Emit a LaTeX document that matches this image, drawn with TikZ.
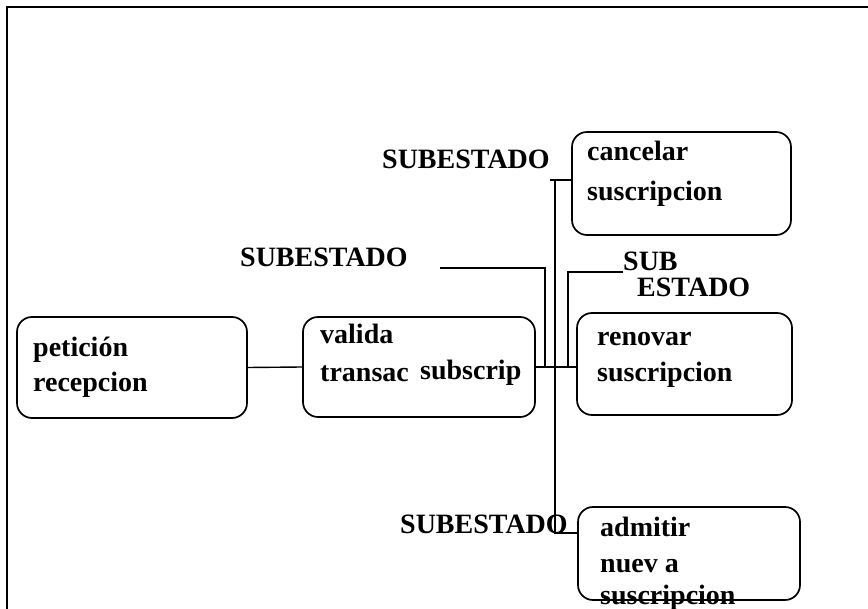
\documentclass[tikz,border=0pt]{standalone}
\usepackage{fontspec}
\setmainfont{Liberation Serif}
\begin{document}
\begin{tikzpicture}[x=1pt,y=-1pt,
  box/.style={draw,line width=1.7pt,rounded corners=15pt,inner sep=0pt},
  txt/.style={anchor=west,inner sep=0pt,yshift=-6pt,font=\fontsize{28}{32}\selectfont\bfseries,text height=0.7em,text depth=0.25em},
  conn/.style={line width=1.4pt}]
\useasboundingbox (0,0) rectangle (868,609);
% frame
\draw[line width=1.4pt] (868,7) -- (7,7) -- (7,609);
% boxes
\node[box,minimum width=230pt,minimum height=101pt] (pet) at (132,367.5) {};
\node[box,minimum width=232pt,minimum height=100pt] (val) at (419,367) {};
\node[box,minimum width=219pt,minimum height=103pt] (can) at (681.5,183.5) {};
\node[box,minimum width=215pt,minimum height=102pt] (ren) at (684.5,364) {};
\node[box,minimum width=222pt,minimum height=93pt] (adm) at (689,553.5) {};
% box texts
\node[txt] (pet1) at (33,348) {petición};
\node[txt] (pet2) at (33,383) {recepcion};
\node[txt] (val1) at (320,335) {valida};
\node[txt] (val2) at (320,373) {transac};
\node[txt] (val3) at (420,371) {subscrip};
\node[txt] (can1) at (587,152) {cancelar};
\node[txt] (can2) at (587,192) {suscripcion};
\node[txt] (ren1) at (597,337) {renovar};
\node[txt] (ren2) at (597,373) {suscripcion};
\node[txt] (adm1) at (600,528) {admitir};
\node[txt] (adm2) at (600,564) {nuev a};
\node[txt] (adm3) at (600,596) {suscripcion};
% labels
\node[txt] (s1) at (382,160) {SUBESTADO};
\node[txt] (s2) at (240,258) {SUBESTADO};
\node[txt] (s3a) at (623,262) {SUB};
\node[txt] (s3b) at (637,288) {ESTADO};
\node[txt] (s4) at (400,525) {SUBESTADO};
% coordinates
\coordinate (c1a) at (550,180);
\coordinate (c1b) at (555,180);
\coordinate (c4) at (555,533);
\coordinate (c4b) at (570,533);
\coordinate (c2a) at (440,268);
\coordinate (c2b) at (545,268);
\coordinate (c3a) at (623,272);
\coordinate (c3b) at (568,272);
% connectors
\draw[conn] (pet.east) -- (val.west);
\draw[conn] (val.east) -- (val.east -| ren.west);
\draw[conn] (c1a) -- (c1a -| can.west);
\draw[conn] (c1b) -- (c4) -- (c4b) -- (c4b -| adm.west);
\draw[conn] (c2a) -- (c2b) -- (c2b |- val.east);
\draw[conn] (c3a) -- (c3b) -- (c3b |- val.east);
\end{tikzpicture}
\end{document}
